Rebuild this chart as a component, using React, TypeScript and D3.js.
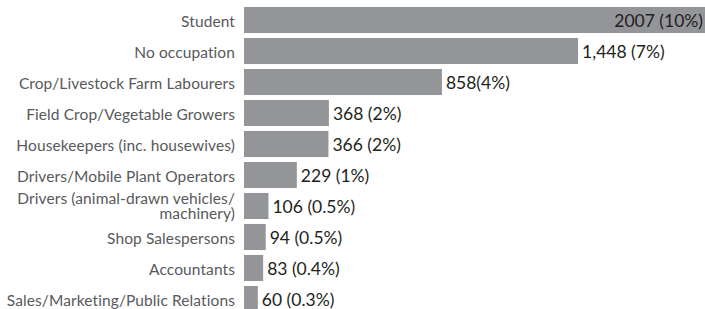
import * as d3 from 'd3';

const categories = [
  'Student',
  'No occupation',
  'Crop/Livestock Farm Labourers',
  'Field Crop/Vegetable Growers',
  'Housekeepers (inc. housewives)',
  'Drivers/Mobile Plant Operators',
  'Drivers (animal-drawn vehicles/ machinery)',
  'Shop Salespersons',
  'Accountants',
  'Sales/Marketing/Public Relations',
];

const counts = [2007, 1448, 858, 368, 366, 229, 106, 94, 83, 60];

const valueLabels = [
  '2007 (10%)',
  '1,448 (7%)',
  '858(4%)',
  '368 (2%)',
  '366 (2%)',
  '229 (1%)',
  '106 (0.5%)',
  '94 (0.5%)',
  '83 (0.4%)',
  '60 (0.3%)',
];

// long labels get split onto two lines
const labelLines: Record<string, string[]> = {
  'Drivers (animal-drawn vehicles/ machinery)': ['Drivers (animal-drawn vehicles/', 'machinery)'],
};

const width = 705;
const height = 309;
const font = 'Lato, "Open Sans", sans-serif';

export default function App() {
  const x = d3.scaleLinear().domain([0, 2007]).range([244, 707]);
  const y = d3
    .scaleBand<string>()
    .domain(categories)
    .range([4.5, 314.5])
    .paddingInner(0.16)
    .paddingOuter(0.08);

  const bw = y.bandwidth();
  const catSize = 15.5;
  const lh = 15;

  return (
    <svg
      width={width}
      height={height}
      style={{ position: 'absolute', left: 0, top: 0, background: '#fff' }}
      fontFamily={font}
    >
      <g>
        {categories.map((c, i) => (
          <rect key={c} x={x(0)} y={y(c)} width={x(counts[i]) - x(0)} height={bw} fill="#939598" />
        ))}
      </g>
      <g textAnchor="end" fill="#58595b" fontSize={catSize} letterSpacing={0.1}>
        {categories.map(c => {
          const cy = (y(c) ?? 0) + bw / 2;
          const lines = labelLines[c] ?? [c];
          const base = cy + catSize * 0.46 - (lines.length - 1) * 9.5;
          return (
            <text key={c} x={235} y={base}>
              {lines.map((l, j) => (
                <tspan key={j} x={235} y={base + j * lh}>
                  {l}
                </tspan>
              ))}
            </text>
          );
        })}
      </g>
      <g fill="#231f20" fontSize={17.5}>
        {categories.map((c, i) => {
          const cy = (y(c) ?? 0) + bw / 2;
          const inside = i === 0;
          return (
            <text
              key={c}
              x={inside ? 703 : x(counts[i]) + 4}
              y={cy}
              dy="0.42em"
              textAnchor={inside ? 'end' : 'start'}
            >
              {valueLabels[i]}
            </text>
          );
        })}
      </g>
    </svg>
  );
}
